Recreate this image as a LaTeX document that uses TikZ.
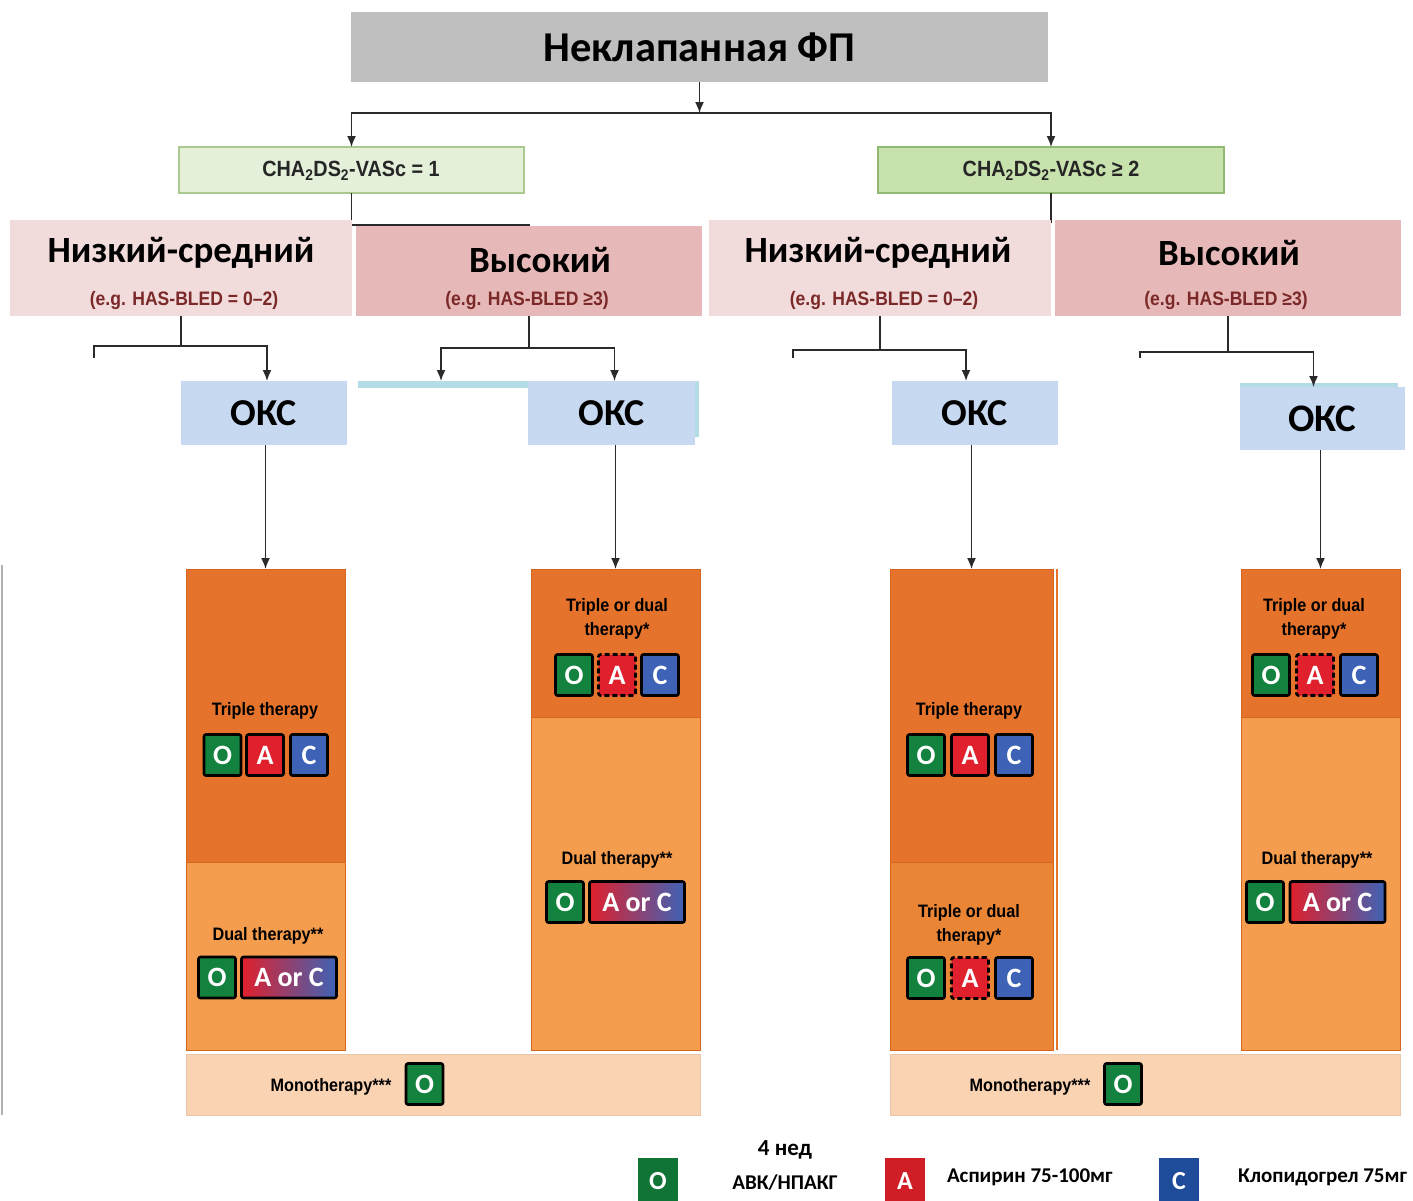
\documentclass[tikz,border=0pt]{standalone}
\usepackage{fontspec}
\setmainfont{Carlito}
\newfontfamily\narrowf[FakeStretch=0.9]{Liberation Sans}
\usetikzlibrary{arrows.meta,calc}
\definecolor{titlegray}{HTML}{BFBFBF}
\definecolor{gLfill}{HTML}{E4F0D9}
\definecolor{gLdraw}{HTML}{A9C98E}
\definecolor{gRfill}{HTML}{C8E2AE}
\definecolor{gRdraw}{HTML}{92B970}
\definecolor{pinkL}{HTML}{F2DCDB}
\definecolor{pinkH}{HTML}{E6B8B7}
\definecolor{okfill}{HTML}{C6D9F1}
\definecolor{cyanbar}{HTML}{B4DCE6}
\definecolor{odark}{HTML}{E5732B}
\definecolor{omid}{HTML}{EA8536}
\definecolor{olight}{HTML}{F59D4E}
\definecolor{oedge}{HTML}{D4661F}
\definecolor{mono}{HTML}{FAD3B3}
\definecolor{tgreen}{HTML}{13823F}
\definecolor{tred}{HTML}{E0202C}
\definecolor{tblue}{HTML}{3E63B6}
\definecolor{lgreen}{HTML}{0F7435}
\definecolor{lred}{HTML}{D01E26}
\definecolor{lblue}{HTML}{1F4C9A}
\definecolor{subred}{HTML}{7A2828}
\definecolor{lncol}{HTML}{2A2A2A}
\tikzset{
  box/.style={inner sep=0pt, outer sep=0pt, anchor=center},
  ln/.style={draw=lncol, line width=1.6pt},
  arr/.style={draw=lncol, line width=1.6pt, -{Latex[length=11pt,width=9pt]}},
  bigru/.style={font=\bfseries\fontsize{37}{42}\selectfont, text=black, inner sep=0pt},
  subtxt/.style={font=\narrowf\bfseries\fontsize{19.5}{22}\selectfont, text=subred, inner sep=0pt},
  cha/.style={font=\narrowf\bfseries\fontsize{22}{26}\selectfont, text=black!85, inner sep=0pt},
  entxt/.style={font=\narrowf\bfseries\fontsize{18}{24}\selectfont, text=black, align=center, inner sep=0pt},
  col/.style={box, draw=oedge, line width=1pt},
  tile/.style={box, draw=black, line width=2.6pt, rounded corners=2pt, minimum width=37pt, minimum height=41pt, text=white, font=\bfseries\fontsize{28}{30}\selectfont},
  tileO/.style={tile, fill=tgreen},
  tileA/.style={tile, fill=tred},
  tileC/.style={tile, fill=tblue},
  tileAd/.style={tile, fill=tred, dash pattern=on 5pt off 3pt},
  aorc/.style={tile, minimum width=95pt, left color=tred, middle color=tred!50!tblue, right color=tblue},
  legtile/.style={box, minimum width=40pt, minimum height=46pt, text=white, font=\bfseries\fontsize{26}{28}\selectfont},
  legtxt/.style={font=\bfseries\fontsize{21}{24}\selectfont, text=black, inner sep=0pt}
}
\begin{document}
\begin{tikzpicture}[x=1pt,y=-1pt]
\useasboundingbox (0,0) rectangle (1413,1200);
\fill[white] (0,0) rectangle (1413,1200);

% title
\node[box, fill=titlegray, minimum width=697pt, minimum height=70pt, font=\bfseries\fontsize{42.5}{46}\selectfont] (title) at (699.5,47) {Неклапанная ФП};

% green boxes
\node[box, fill=gLfill, draw=gLdraw, line width=1.2pt, minimum width=345pt, minimum height=46pt] (gL) at (351.5,170) {};
\node[cha] (gLt) at (351,171) {CHA\textsubscript{2}DS\textsubscript{2}-VASc = 1};
\node[box, fill=gRfill, draw=gRdraw, line width=1.2pt, minimum width=346pt, minimum height=46pt] (gR) at (1051,170) {};
\node[cha] (gRt) at (1051,171) {CHA\textsubscript{2}DS\textsubscript{2}-VASc ≥ 2};

% connectors title -> green
\draw[arr] (title.south) -- ++(0,31) coordinate (jT);
\draw[arr] (jT) -| (gL.north);
\draw[arr] (jT) -| (gR.north);

% connectors green -> risk boxes (mostly hidden)
\draw[ln] (gL.south) -- ++(0,32) -| (529,228);
\draw[ln] (gR.south) -- ++(0,30);

% risk boxes
\node[box, fill=pinkL, minimum width=342pt, minimum height=96pt] (lowL) at (181,268) {};
\node[box, fill=pinkH, minimum width=346pt, minimum height=90pt] (highL) at (529,271) {};
\node[box, fill=pinkL, minimum width=342pt, minimum height=96pt] (lowR) at (880,268) {};
\node[box, fill=pinkH, minimum width=346pt, minimum height=96pt] (highR) at (1228,268) {};
\node[bigru] (lowLt) at (181,253) {Низкий-средний};
\node[subtxt] (lowLs) at (184,300) {(e.g. HAS-BLED = 0–2)};
\node[bigru] (highLt) at (540,260) {Высокий};
\node[subtxt] (highLs) at (527,300) {(e.g. HAS-BLED ≥3)};
\node[bigru] (lowRt) at (878,253) {Низкий-средний};
\node[subtxt] (lowRs) at (884,300) {(e.g. HAS-BLED = 0–2)};
\node[bigru] (highRt) at (1229,253) {Высокий};
\node[subtxt] (highRs) at (1226,300) {(e.g. HAS-BLED ≥3)};

% OKS boxes and artifacts
\node[box, fill=cyanbar, minimum width=170pt, minimum height=7pt] (cbar) at (443,384.5) {};
\fill[cyanbar] (694,381) rectangle (699,437);
\fill[cyanbar] (1240,383) rectangle (1398,389);
\node[box, fill=okfill, minimum width=166pt, minimum height=64pt, font=\bfseries\fontsize{38}{40}\selectfont] (ok1) at (264,413) {ОКС};
\node[box, fill=okfill, minimum width=167pt, minimum height=64pt, font=\bfseries\fontsize{38}{40}\selectfont] (ok2) at (611.5,413) {ОКС};
\node[box, fill=okfill, minimum width=166pt, minimum height=64pt, font=\bfseries\fontsize{38}{40}\selectfont] (ok3) at (975,413) {ОКС};
\node[box, fill=okfill, minimum width=165pt, minimum height=63pt, font=\bfseries\fontsize{39}{40}\selectfont] (ok4) at (1322.5,418.5) {ОКС};

% risk -> OKS connectors
\coordinate (stA) at (94,358);
\coordinate (stC) at (793,358);
\coordinate (stD) at (1140,358);
\draw[ln] (lowL.south) -- ++(0,30) coordinate (jA);
\draw[arr] (stA) |- (jA) -| ([xshift=3pt]ok1.north);
\draw[ln] (highL.south) -- ++(0,32) coordinate (jB);
\draw[arr] (jB) -| ([xshift=-2pt]cbar.north);
\draw[arr] (jB) -| ([xshift=3pt]ok2.north);
\draw[ln] (lowR.south) -- ++(0,34) coordinate (jC);
\draw[arr] (stC) |- (jC) -| ([xshift=-9pt]ok3.north);
\draw[ln] (highR.south) -- ++(0,36) coordinate (jD);
\draw[arr] (stD) |- (jD) -| ([xshift=-9pt]ok4.north);

% columns
\node[col, fill=odark, minimum width=159pt, minimum height=293pt] (colAt) at (265.5,715.5) {};
\node[col, fill=olight, minimum width=159pt, minimum height=188pt] (colAb) at (265.5,956) {};
\node[col, fill=odark, minimum width=169pt, minimum height=148pt] (colBt) at (615.5,643) {};
\node[col, fill=olight, minimum width=169pt, minimum height=333pt] (colBb) at (615.5,883.5) {};
\node[col, fill=odark, minimum width=163pt, minimum height=293pt] (colCt) at (971.5,715.5) {};
\node[col, fill=omid, minimum width=163pt, minimum height=188pt] (colCb) at (971.5,956) {};
\node[col, fill=odark, minimum width=159pt, minimum height=148pt] (colDt) at (1320.5,643) {};
\node[col, fill=olight, minimum width=159pt, minimum height=333pt] (colDb) at (1320.5,883.5) {};
\fill[odark] (1055.5,569) rectangle (1058,1050);
\draw[gray!60, line width=1.5pt] (2,565) -- (2,1115);

% OKS -> columns
\draw[arr] (colAt.north |- ok1.south) -- (colAt.north);
\draw[arr] (colBt.north |- ok2.south) -- (colBt.north);
\draw[arr] (colCt.north |- ok3.south) -- (colCt.north);
\draw[arr] (colDt.north |- ok4.south) -- (colDt.north);

% column A content
\node[entxt] (tA1) at (265,711) {Triple therapy};
\node[tileO] (a1o) at (222.5,755) {O};
\node[tileA] (a1a) at (265,755) {A};
\node[tileC] (a1c) at (309,755) {C};
\node[entxt] (tA2) at (268,936) {Dual therapy**};
\node[tileO] (a2o) at (217,977.5) {O};
\node[aorc] (a2ac) at (289,977.5) {A or C};

% column B content
\node[entxt] (tB1) at (617,619) {Triple or dual\\therapy*};
\node[tileO] (b1o) at (574,675) {O};
\node[tileAd] (b1a) at (617,675) {A};
\node[tileC] (b1c) at (660,675) {C};
\node[entxt] (tB2) at (617,860) {Dual therapy**};
\node[tileO] (b2o) at (565,902) {O};
\node[aorc] (b2ac) at (637,902) {A or C};

% column C content
\node[entxt] (tC1) at (969,711) {Triple therapy};
\node[tileO] (c1o) at (926,755) {O};
\node[tileA] (c1a) at (970,755) {A};
\node[tileC] (c1c) at (1014,755) {C};
\node[entxt] (tC2) at (969,925) {Triple or dual\\therapy*};
\node[tileO] (c2o) at (926,978) {O};
\node[tileAd] (c2a) at (970,978) {A};
\node[tileC] (c2c) at (1014,978) {C};

% column D content
\node[entxt] (tD1) at (1314,619) {Triple or dual\\therapy*};
\node[tileO] (d1o) at (1271,675) {O};
\node[tileAd] (d1a) at (1315,675) {A};
\node[tileC] (d1c) at (1359,675) {C};
\node[entxt] (tD2) at (1317,860) {Dual therapy**};
\node[tileO] (d2o) at (1265,902) {O};
\node[aorc] (d2ac) at (1337.5,902) {A or C};

% monotherapy bars
\node[box, fill=mono, draw=mono!85!gray, line width=1pt, minimum width=514pt, minimum height=61pt] (monoL) at (443,1084.5) {};
\node[entxt] (mLt) at (331,1087) {Monotherapy***};
\node[tileO] (mLo) at (424.5,1084) {O};
\node[box, fill=mono, draw=mono!85!gray, line width=1pt, minimum width=510pt, minimum height=61pt] (monoR) at (1145,1084.5) {};
\node[entxt] (mRt) at (1030,1087) {Monotherapy***};
\node[tileO] (mRo) at (1123,1084) {O};

% legend
\node[legtile, fill=lgreen] (lgO) at (658,1181) {O};
\node[legtxt, font=\bfseries\fontsize{23}{26}\selectfont] (lgO1) at (785,1150) {4 нед};
\node[legtxt] (lgO2) at (785,1183) {АВК/НПАКГ};
\node[legtile, fill=lred] (lgA) at (905,1181) {A};
\node[legtxt, anchor=west] (lgA1) at (947,1177) {Аспирин 75-100мг};
\node[legtile, fill=lblue] (lgC) at (1179,1181) {C};
\node[legtxt, anchor=west] (lgC1) at (1238,1177) {Клопидогрел 75мг};
\end{tikzpicture}
\end{document}
